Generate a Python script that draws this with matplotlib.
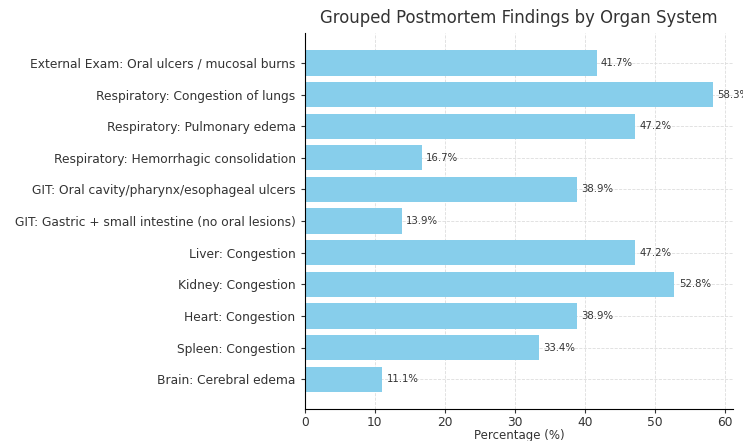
import matplotlib
matplotlib.use("Agg")
import matplotlib.pyplot as plt

findings = [
    "External Exam: Oral ulcers / mucosal burns",
    "Respiratory: Congestion of lungs",
    "Respiratory: Pulmonary edema",
    "Respiratory: Hemorrhagic consolidation",
    "GIT: Oral cavity/pharynx/esophageal ulcers",
    "GIT: Gastric + small intestine (no oral lesions)",
    "Liver: Congestion",
    "Kidney: Congestion",
    "Heart: Congestion",
    "Spleen: Congestion",
    "Brain: Cerebral edema",
]
percentages = [41.7, 58.3, 47.2, 16.7, 38.9, 13.9, 47.2, 52.8, 38.9, 33.4, 11.1]

fig = plt.figure(figsize=(7.43, 4.41), dpi=100)
ax = fig.add_axes([0.410, 0.072, 0.577, 0.853])

bars = ax.barh(findings, percentages, color="skyblue", height=0.8, zorder=2)
ax.invert_yaxis()

for bar, pct in zip(bars, percentages):
    ax.text(bar.get_width() + 0.6, bar.get_y() + bar.get_height() / 2,
            f"{pct}%", va="center", ha="left", fontsize=7.3, color="#333333")

ax.set_xlim(0, 61.2)
ax.set_xticks([0, 10, 20, 30, 40, 50, 60])
ax.set_title("Grouped Postmortem Findings by Organ System", fontsize=11.9,
             color="#333333", pad=7)
ax.set_xlabel("Percentage (%)", fontsize=8.5, labelpad=0, color="#333333")
ax.tick_params(axis="y", labelsize=8.8, colors="#333333", length=3)
ax.tick_params(axis="x", labelsize=8.8, colors="#333333", length=3, pad=2)
ax.grid(True, linestyle="--", linewidth=0.6, color="#dddddd", zorder=0)
ax.set_axisbelow(True)
ax.spines["top"].set_visible(False)
ax.spines["right"].set_visible(False)

fig.savefig("out.png", dpi=100)
